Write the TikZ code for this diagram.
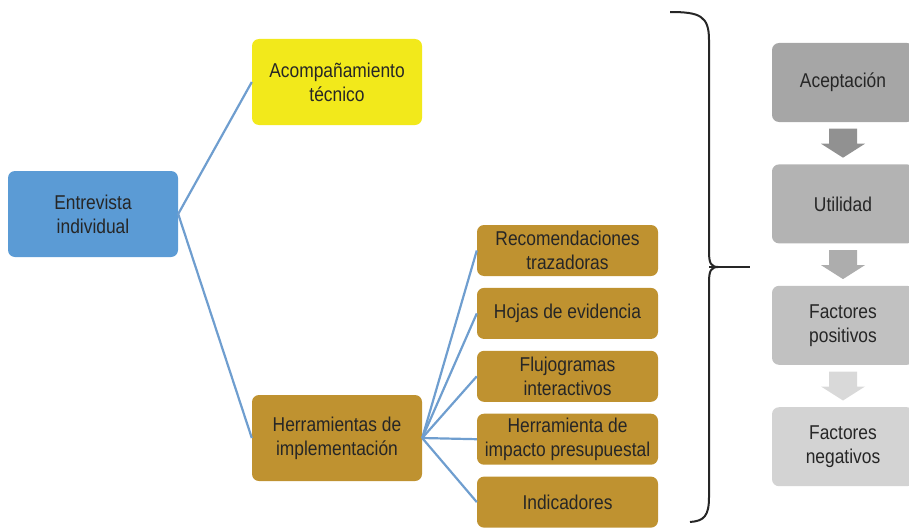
\documentclass[tikz,border=0pt]{standalone}
\usepackage{fontspec}
\setmainfont{Liberation Sans}[FakeStretch=0.87]
\usetikzlibrary{positioning,calc}

\definecolor{azul}{HTML}{5B9BD5}
\definecolor{amarillo}{HTML}{F2E91B}
\definecolor{oro}{HTML}{BF9230}
\definecolor{linea}{HTML}{6F9ECF}
\definecolor{gris1}{HTML}{A6A6A6}
\definecolor{gris2}{HTML}{B3B3B3}
\definecolor{gris3}{HTML}{C1C1C1}
\definecolor{gris4}{HTML}{D3D3D3}

\tikzset{
  caja/.style={rectangle, rounded corners=7pt, align=center, inner sep=2pt,
    text=black!85, font=\fontsize{20}{24}\selectfont},
  grande/.style={caja, minimum width=170pt, minimum height=86pt},
  chica/.style={caja, fill=oro, minimum width=181pt, minimum height=51pt},
  gris/.style={caja, minimum width=142pt, minimum height=79pt},
  rama/.style={draw=linea, line width=2.2pt},
  llave/.style={draw=black!85, line width=2pt}
}

% down arrow between two boxes
\newcommand{\flecha}[2]{%
  \fill[#2] ($(#1)+(-14,-14.5)$) -- ++(28,0) -- ++(0,15) -- ++(8,0)
    -- ++(-22,14) -- ++(-22,-14) -- ++(8,0) -- cycle;}

\begin{document}
\begin{tikzpicture}[x=1pt,y=-1pt]
   \clip (0,0) rectangle (909,527);

   % main boxes
   \node[grande, fill=azul]     (n0) at (93,214)  {Entrevista\\individual};
   \node[grande, fill=amarillo] (n1) at (337,82)  {Acompañamiento\\técnico};
   \node[grande, fill=oro]      (n2) at (337,438) {Herramientas de\\implementación};

   % tools
   \node[chica]                        (t1) at (567.5,250.5) {Recomendaciones\\trazadoras};
   \node[chica, below=11.5pt of t1]    (t2) {Hojas de evidencia};
   \node[chica, below=11.5pt of t2]    (t3) {Flujogramas\\interactivos};
   \node[chica, below=11.5pt of t3]    (t4) {Herramienta de\\impacto presupuestal};
   \node[chica, below=11.5pt of t4]    (t5) {Indicadores};

   \draw[rama] (n0.east) -- (n1.west);
   \draw[rama] (n0.east) -- (n2.west);
   \foreach \i in {1,...,5}
      \draw[rama] (n2.east) -- (t\i.west);

   % brace
   \coordinate (br) at (750,267);
   \draw[llave] (670,12) .. controls (700,12) and (709,16) .. (709,40)
      -- (709,252) .. controls (709,263) and (711,267) .. (718,267)
      .. controls (711,267) and (709,271) .. (709,282)
      -- (709,497) .. controls (709,516) and (704,521) .. (690,522);
   \draw[llave] (709,267) -- (br);

   % evaluation
   \node[gris, fill=gris1]               (f1) at (843,82.5) {Aceptación};
   \node[gris, fill=gris2, below=42pt of f1] (f2) {Utilidad};
   \node[gris, fill=gris3, below=42pt of f2] (f3) {Factores\\positivos};
   \node[gris, fill=gris4, below=42pt of f3] (f4) {Factores\\negativos};

   \flecha{$(f1.south)!0.5!(f2.north)$}{black!43}
   \flecha{$(f2.south)!0.5!(f3.north)$}{black!32}
   \flecha{$(f3.south)!0.5!(f4.north)$}{black!15}
\end{tikzpicture}
\end{document}
